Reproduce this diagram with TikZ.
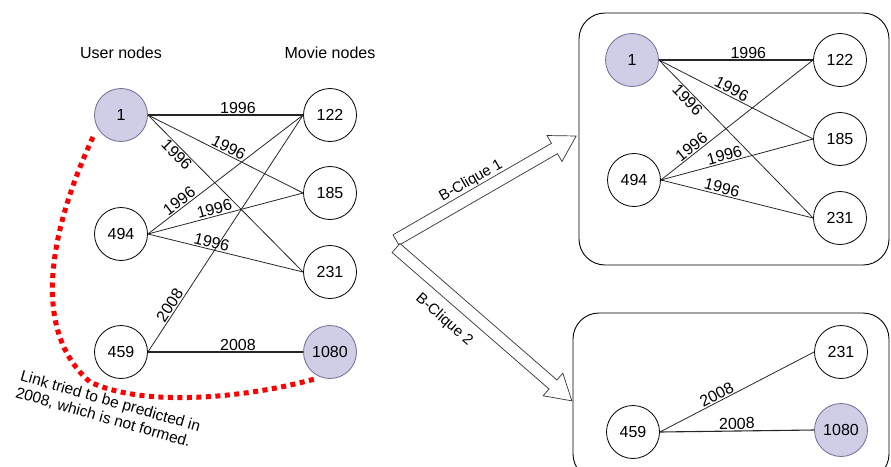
\documentclass[tikz,border=0pt]{standalone}
\usepackage{fontspec}
\setmainfont{Liberation Sans}
\begin{document}
\begin{tikzpicture}[x=1pt,y=-1pt,
  vnode/.style={circle,draw=black,line width=0.8pt,minimum size=53pt,inner sep=0pt,font=\fontsize{16}{18}\selectfont},
  hnode/.style={vnode,fill=hl,draw=hlb},
  edge/.style={draw=black!85,line width=0.8pt},
  lbl/.style={font=\fontsize{16}{18}\selectfont,inner sep=1.2pt,sloped},
  ttl/.style={font=\fontsize{16}{18}\selectfont},
  box/.style={draw=black,line width=0.9pt,rounded corners=26pt},
  harrow/.style={draw=black!80,line width=0.7pt,fill=white}
]
\definecolor{hl}{RGB}{208,206,230}
\definecolor{hlb}{RGB}{112,108,150}
\useasboundingbox (0,0) rectangle (891,466);

% titles
\node[ttl] (tu) at (121,53) {User nodes};
\node[ttl] (tm) at (330,53) {Movie nodes};

% left graph
\node[hnode] (a1) at (121,115) {1};
\node[vnode] (a494) at (121,234) {494};
\node[vnode] (a459) at (121,352) {459};
\node[vnode] (a122) at (330,115) {122};
\node[vnode] (a185) at (330,193) {185};
\node[vnode] (a231) at (330,272) {231};
\node[hnode] (a1080) at (330,352) {1080};

\draw[edge,line width=1.1pt] (a1.east) -- node[lbl,above,pos=0.58] {1996} (a122.west);
\draw[edge] (a1.east) -- node[lbl,above,pos=0.5] {1996} (a185.west);
\draw[edge] (a1.east) -- node[lbl,below,pos=0.22] {1996} (a231.west);
\draw[edge] (a494.east) -- node[lbl,above,pos=0.23] {1996} (a122.west);
\draw[edge] (a494.east) -- node[lbl,above,pos=0.44] {1996} (a185.west);
\draw[edge] (a494.east) -- node[lbl,above,pos=0.40] {1996} (a231.west);
\draw[edge] (a459.east) -- node[lbl,above,pos=0.18] {2008} (a122.west);
\draw[edge,line width=1.1pt] (a459.east) -- node[lbl,above,pos=0.58] {2008} (a1080.west);

% red dotted link
\coordinate (r1) at (93,137);
\coordinate (r2) at (90,382);
\coordinate (r3) at (318,378);
\draw[red,line width=5pt,dash pattern=on 5pt off 4.5pt] (r1) .. controls (50,230) and (30,330) .. (r2) .. controls (150,410) and (260,395) .. (r3);
\node[font=\fontsize{15.5}{17.5}\selectfont,rotate=-16,align=left] (note) at (108,410) {Link tried to be predicted in\\2008, which is not formed.};

% block arrows
\begin{scope}[shift={(396,240)},rotate=30]
  \draw[harrow] (0,-6) -- (183,-6) -- (183,-15) -- (208,0) -- (183,15) -- (183,6) -- (0,6) -- cycle;
\end{scope}
\begin{scope}[shift={(396,248)},rotate=-41]
  \draw[harrow] (0,-6) -- (208,-6) -- (208,-15) -- (233,0) -- (208,15) -- (208,6) -- (0,6) -- cycle;
\end{scope}
\node[font=\fontsize{15}{17}\selectfont,rotate=30] (bc1) at (471,181) {B-Clique 1};
\node[font=\fontsize{15}{17}\selectfont,rotate=-41] (bc2) at (444,320) {B-Clique 2};

% top right box
\draw[box] (579,13) rectangle (889,265);
\node[hnode] (b1) at (632,60) {1};
\node[vnode] (b494) at (634,180) {494};
\node[vnode] (b122) at (840,60) {122};
\node[vnode] (b185) at (840,139) {185};
\node[vnode] (b231) at (840,218) {231};
\draw[edge,line width=1.1pt] (b1.east) -- node[lbl,above,pos=0.58] {1996} (b122.west);
\draw[edge] (b1.east) -- node[lbl,above,pos=0.45] {1996} (b185.west);
\draw[edge] (b1.east) -- node[lbl,below,pos=0.22] {1996} (b231.west);
\draw[edge] (b494.east) -- node[lbl,above,pos=0.23] {1996} (b122.west);
\draw[edge] (b494.east) -- node[lbl,above,pos=0.43] {1996} (b185.west);
\draw[edge] (b494.east) -- node[lbl,above,pos=0.39] {1996} (b231.west);

% bottom right box
\draw[box] (573,313) rectangle (889,480);
\node[vnode] (c459) at (633,432) {459};
\node[vnode] (c231) at (841,352) {231};
\node[hnode] (c1080) at (841,430) {1080};
\draw[edge] (c459.east) -- node[lbl,above,pos=0.39] {2008} (c231.west);
\draw[edge,line width=1.1pt] (c459.east) -- node[lbl,above,pos=0.5] {2008} (c1080.west);
\end{tikzpicture}
\end{document}
